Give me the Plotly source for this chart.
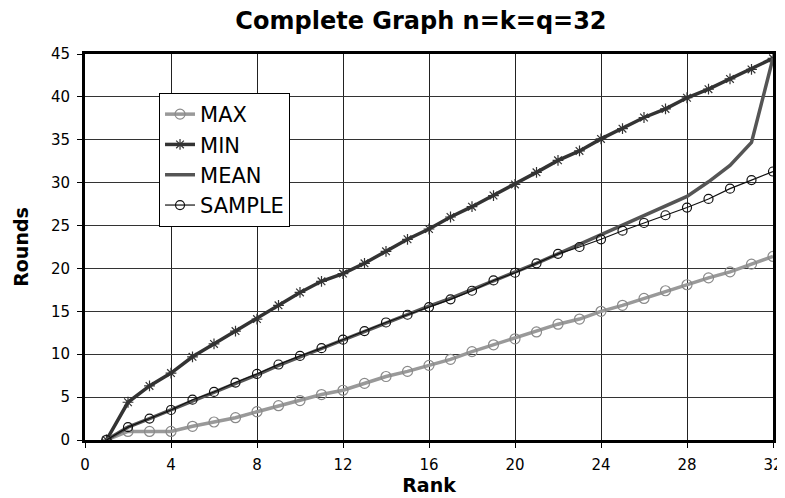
import plotly.graph_objects as go

rank = list(range(1, 33))
max_vals = [0, 1.0, 1.0, 1.0, 1.6, 2.1, 2.6, 3.3, 4.0, 4.6, 5.3, 5.8, 6.6, 7.4, 8.0, 8.7,
            9.4, 10.3, 11.1, 11.8, 12.6, 13.5, 14.1, 15.0, 15.7, 16.5, 17.4, 18.1, 18.9, 19.6, 20.5, 21.4]
min_vals = [0, 4.4, 6.3, 7.8, 9.7, 11.2, 12.7, 14.1, 15.7, 17.2, 18.5, 19.4, 20.6, 22.0, 23.4, 24.6,
            26.0, 27.2, 28.5, 29.8, 31.2, 32.6, 33.7, 35.1, 36.3, 37.6, 38.6, 39.9, 40.9, 42.1, 43.2, 44.5]
mean_vals = [0, 1.5, 2.5, 3.5, 4.6, 5.6, 6.6, 7.6, 8.7, 9.7, 10.7, 11.7, 12.7, 13.7, 14.6, 15.6,
             16.5, 17.5, 18.5, 19.5, 20.6, 21.7, 22.8, 23.9, 25.0, 26.1, 27.2, 28.4, 30.1, 32.0, 34.7, 44.5]
sample_vals = [0, 1.5, 2.5, 3.5, 4.7, 5.6, 6.7, 7.7, 8.8, 9.8, 10.7, 11.7, 12.7, 13.7, 14.6, 15.5,
               16.4, 17.4, 18.6, 19.5, 20.6, 21.7, 22.5, 23.4, 24.4, 25.3, 26.2, 27.1, 28.1, 29.3, 30.3, 31.3]

x_ticks = list(range(0, 33, 4))
y_ticks = list(range(0, 46, 5))

FONT = "DejaVu Sans, Liberation Sans, Arial, sans-serif"

fig = go.Figure()
fig.add_trace(go.Scatter(x=rank, y=max_vals, name="MAX", mode="lines+markers",
                         line=dict(color="#999999", width=3.5),
                         marker=dict(symbol="circle-open", size=10, color="#8a8a8a", line=dict(width=1.2))))
fig.add_trace(go.Scatter(x=rank, y=min_vals, name="MIN", mode="lines+markers",
                         line=dict(color="#333333", width=3.5),
                         marker=dict(symbol="asterisk-open", size=9, color="#333333", line=dict(width=1.2))))
fig.add_trace(go.Scatter(x=rank, y=mean_vals, name="MEAN", mode="lines",
                         line=dict(color="#555555", width=3.5)))
fig.add_trace(go.Scatter(x=rank, y=sample_vals, name="SAMPLE", mode="lines+markers",
                         line=dict(color="#111111", width=1.2),
                         marker=dict(symbol="circle-open", size=9, color="#111111", line=dict(width=1.2))))

# page body has an 8px default margin, so the figure is 8px smaller than the window
fig.update_layout(
    width=777, height=490,
    margin=dict(l=77, r=12, t=46, b=58, autoexpand=False),
    paper_bgcolor="white", plot_bgcolor="white",
    font=dict(family=FONT, color="black"),
    title=dict(text="<b>Complete Graph n=k=q=32</b>", x=0.5315, xanchor="center",
               y=0.991, yanchor="top", yref="container", pad=dict(t=0, b=0, l=0, r=0),
               font=dict(size=24, family=FONT)),
    showlegend=True,
    legend=dict(x=0.1076, y=0.899, xanchor="left", yanchor="top", bgcolor="white",
                bordercolor="black", borderwidth=1, font=dict(size=21, family=FONT),
                tracegroupgap=0, itemwidth=30),
)
fig.update_xaxes(range=[0, 32], tickvals=x_ticks, ticktext=[str(v) for v in x_ticks],
                 showgrid=True, gridcolor="#222222", gridwidth=1, automargin=False,
                 showline=True, linecolor="black", linewidth=3, mirror=True,
                 ticks="outside", ticklen=5, tickcolor="black",
                 tickfont=dict(size=15), zeroline=False, ticklabelstandoff=4,
                 title=dict(text="<b>Rank</b>", font=dict(size=19), standoff=0))
fig.update_yaxes(range=[0, 45], tickvals=y_ticks, ticktext=[str(v) for v in y_ticks],
                 showgrid=True, gridcolor="#333333", gridwidth=1, automargin=False,
                 showline=True, linecolor="black", linewidth=3, mirror=True,
                 ticks="outside", ticklen=5, tickcolor="black",
                 tickfont=dict(size=15), zeroline=False, ticklabelstandoff=4,
                 title=dict(text="<b>Rounds</b>", font=dict(size=19), standoff=18))

fig.write_html("out.html")
